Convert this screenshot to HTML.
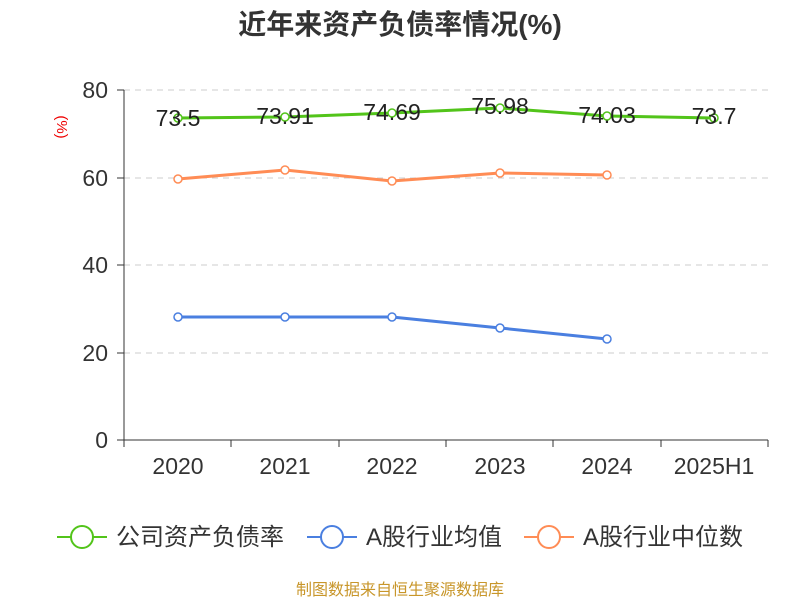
<!DOCTYPE html>
<html><head><meta charset="utf-8"><style>body{margin:0;background:#fff}</style></head><body>
<svg width="800" height="600" xmlns="http://www.w3.org/2000/svg" font-family="Liberation Sans, Noto Sans CJK SC, sans-serif">
<text x="400" y="34" text-anchor="middle" font-size="28" font-weight="bold" fill="#333">近年来资产负债率情况(%)</text>
<text x="62" y="127" font-size="15" fill="#e00" transform="rotate(90 62 127)" text-anchor="middle" dy="5">(%)</text>
<g stroke="#ccc" stroke-dasharray="6,5" stroke-width="1">
<line x1="124" y1="90" x2="768" y2="90"/><line x1="124" y1="178" x2="768" y2="178"/><line x1="124" y1="265" x2="768" y2="265"/><line x1="124" y1="353" x2="768" y2="353"/></g>
<g stroke="#333" stroke-width="1">
<line x1="124" y1="90" x2="124" y2="440"/><line x1="124" y1="440" x2="768" y2="440"/>
<line x1="117" y1="90" x2="124" y2="90"/><line x1="117" y1="178" x2="124" y2="178"/><line x1="117" y1="265" x2="124" y2="265"/><line x1="117" y1="353" x2="124" y2="353"/><line x1="117" y1="440" x2="124" y2="440"/>
<line x1="124" y1="440" x2="124" y2="447"/><line x1="231" y1="440" x2="231" y2="447"/><line x1="339" y1="440" x2="339" y2="447"/><line x1="446" y1="440" x2="446" y2="447"/><line x1="553" y1="440" x2="553" y2="447"/><line x1="661" y1="440" x2="661" y2="447"/><line x1="768" y1="440" x2="768" y2="447"/></g>
<g font-size="23" fill="#333" text-anchor="end"><text x="108" y="98">80</text><text x="108" y="186">60</text><text x="108" y="273">40</text><text x="108" y="361">20</text><text x="108" y="448">0</text></g>
<g font-size="23" fill="#333" text-anchor="middle"><text x="178" y="474">2020</text><text x="285" y="474">2021</text><text x="392" y="474">2022</text><text x="500" y="474">2023</text><text x="607" y="474">2024</text><text x="714" y="474">2025H1</text></g>
<polyline fill="none" stroke="#52c41a" stroke-width="3" points="178,118 285,117 392,113 500,108 607,116 714,118"/>
<polyline fill="none" stroke="#ff8c55" stroke-width="3" points="178,179 285,170 392,181 500,173 607,175"/>
<polyline fill="none" stroke="#4a7fe0" stroke-width="3" points="178,317 285,317 392,317 500,328 607,339"/>
<g fill="#fff" stroke-width="1.5">
<g stroke="#52c41a"><circle cx="178" cy="118" r="4"/><circle cx="285" cy="117" r="4"/><circle cx="392" cy="113" r="4"/><circle cx="500" cy="108" r="4"/><circle cx="607" cy="116" r="4"/><circle cx="714" cy="118" r="4"/></g>
<g stroke="#ff8c55"><circle cx="178" cy="179" r="4"/><circle cx="285" cy="170" r="4"/><circle cx="392" cy="181" r="4"/><circle cx="500" cy="173" r="4"/><circle cx="607" cy="175" r="4"/></g>
<g stroke="#4a7fe0"><circle cx="178" cy="317" r="4"/><circle cx="285" cy="317" r="4"/><circle cx="392" cy="317" r="4"/><circle cx="500" cy="328" r="4"/><circle cx="607" cy="339" r="4"/></g></g>
<g font-size="23" fill="#222" text-anchor="middle"><text x="178" y="126">73.5</text><text x="285" y="124">73.91</text><text x="392" y="120">74.69</text><text x="500" y="114">75.98</text><text x="607" y="123">74.03</text><text x="714" y="124">73.7</text></g>
<g stroke-width="2" fill="#fff">
<line x1="57" y1="537" x2="107" y2="537" stroke="#52c41a"/><circle cx="82" cy="537" r="11" stroke="#52c41a"/>
<line x1="307" y1="537" x2="357" y2="537" stroke="#4a7fe0"/><circle cx="332" cy="537" r="11" stroke="#4a7fe0"/>
<line x1="524" y1="537" x2="574" y2="537" stroke="#ff8c55"/><circle cx="549" cy="537" r="11" stroke="#ff8c55"/></g>
<g font-size="24" fill="#333"><text x="116" y="545">公司资产负债率</text><text x="366" y="545">A股行业均值</text><text x="583" y="545">A股行业中位数</text></g>
<text x="400" y="595" text-anchor="middle" font-size="16" fill="#c8962a">制图数据来自恒生聚源数据库</text>
</svg></body></html>
